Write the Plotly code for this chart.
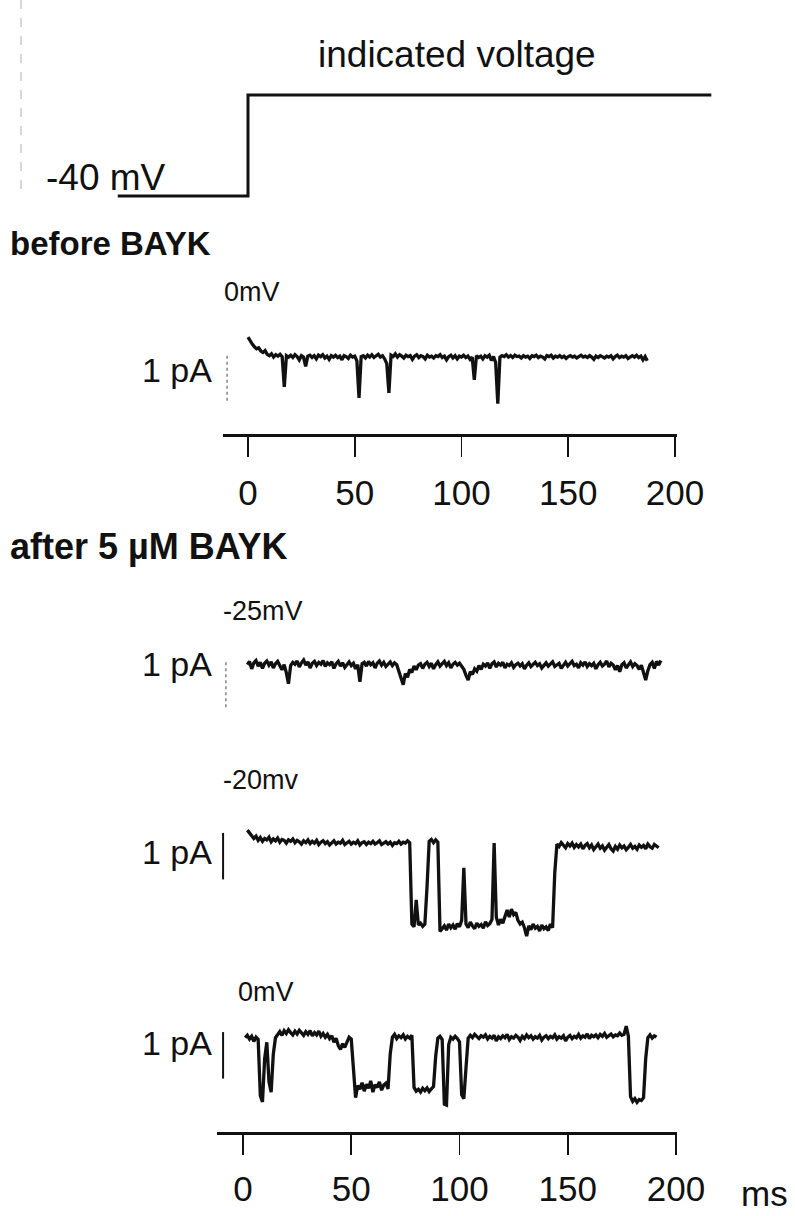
import plotly.graph_objects as go

# ---------------------------------------------------------------- data
# Voltage protocol (ms, mV): holding at -40 mV, step at t = 0
protocol_t = [-61.0, 0.0, 0.0, 217.0]
protocol_v = [-40.0, -40.0, 0.0, 0.0]

DT = 1.0  # sampling interval of the digitised records, ms

# before BAYK, step to 0 mV (pA, closed level = 0), first sample at t = 0 ms
before_t0 = 0.0
before_0mV = [
    0.45, 0.36, 0.30, 0.24, 0.20, 0.22, 0.15, 0.12, 0.16, 0.08,
    0.05, 0.09, 0.02, 0.07, 0.04, 0.08, 0.03, -0.62, 0.05, 0.02,
    0.06, 0.01, 0.07, 0.03, -0.04, 0.05, 0.02, -0.18, 0.04, 0.06,
    0.01, 0.05, -0.02, 0.06, 0.03, 0.07, 0.00, 0.04, -0.03, 0.05,
    0.02, 0.06, 0.01, 0.04, -0.04, 0.05, 0.03, -0.01, 0.06, 0.02,
    0.04, -0.06, -0.86, 0.03, 0.05, 0.00, 0.06, 0.02, 0.07, 0.01,
    0.04, 0.08, 0.02, 0.05, -0.02, -0.12, -0.75, 0.06, 0.03, 0.09,
    0.02, 0.07, 0.04, 0.00, 0.06, 0.03, 0.05, -0.03, 0.04, 0.07,
    0.01, 0.05, 0.03, -0.02, 0.06, 0.02, 0.04, 0.00, 0.05, 0.03,
    0.07, 0.01, 0.04, -0.04, 0.03, 0.06, 0.00, 0.05, -0.02, 0.04,
    0.02, 0.06, 0.01, 0.04, -0.03, 0.02, -0.47, 0.05, 0.01, 0.04,
    -0.02, 0.05, 0.02, 0.06, -0.05, 0.03, -0.10, -0.98, 0.02, 0.05,
    0.03, 0.07, 0.02, 0.05, 0.01, 0.06, 0.03, 0.04, 0.00, 0.05,
    0.02, 0.04, -0.01, 0.05, 0.03, 0.06, 0.01, 0.04, 0.02, -0.02,
    0.05, 0.03, 0.06, 0.00, 0.04, 0.02, 0.05, 0.01, 0.04, -0.01,
    0.03, 0.05, 0.02, 0.04, 0.00, 0.03, 0.06, 0.02, 0.04, 0.01,
    0.05, 0.02, -0.03, 0.04, 0.01, 0.05, 0.03, 0.00, 0.04, 0.02,
    0.05, -0.02, 0.03, 0.06, 0.01, 0.04, 0.02, 0.05, -0.01, 0.03,
    0.05, 0.02, 0.06, 0.01, 0.04, -0.04, 0.03, -0.06,
]

# after 5 µM BAYK, step to -25 mV, first sample at t = 2 ms
bayk_m25_t0 = 2.0
bayk_m25 = [
    0.05, 0.12, -0.04, 0.09, 0.14, 0.02, 0.10, -0.03, 0.08, 0.13,
    0.04, 0.11, -0.02, 0.07, 0.12, 0.01, -0.06, 0.05, -0.12, -0.36,
    0.03, 0.10, 0.06, 0.13, 0.00, 0.09, 0.15, 0.04, 0.11, -0.02,
    0.08, 0.12, 0.03, 0.10, 0.06, 0.14, 0.01, 0.09, 0.05, 0.11,
    -0.03, 0.07, 0.12, 0.02, 0.09, -0.01, 0.06, 0.11, 0.03, 0.08,
    -0.04, 0.05, -0.32, 0.07, 0.10, 0.02, 0.12, 0.05, 0.09, -0.02,
    0.08, 0.13, 0.04, 0.10, 0.01, 0.07, 0.11, 0.03, 0.09, 0.05,
    -0.08, -0.20, -0.38, -0.14, -0.22, -0.05, -0.12, 0.02, -0.06, 0.04,
    0.07, -0.03, 0.06, 0.10, 0.01, 0.08, -0.04, 0.05, 0.11, 0.02,
    0.07, 0.12, 0.03, 0.09, -0.02, 0.06, 0.10, 0.04, 0.08, 0.01,
    -0.05, -0.18, -0.28, -0.10, -0.16, -0.04, -0.09, 0.03, -0.05, 0.06,
    0.02, 0.09, -0.03, 0.07, 0.11, 0.00, 0.08, 0.04, 0.10, -0.02,
    0.06, 0.03, 0.09, -0.01, 0.05, 0.08, 0.02, 0.07, -0.04, 0.04,
    0.09, 0.01, 0.06, 0.10, 0.03, 0.07, -0.02, 0.05, 0.09, 0.02,
    0.06, 0.11, 0.01, 0.05, 0.08, -0.03, 0.04, 0.10, 0.02, 0.07,
    0.12, 0.03, 0.06, -0.02, 0.09, 0.04, 0.11, 0.01, 0.07, 0.03,
    0.08, -0.04, 0.05, 0.10, 0.02, 0.06, 0.13, 0.00, 0.08, 0.04,
    -0.06, 0.03, -0.10, 0.05, 0.09, -0.02, 0.06, 0.11, 0.01, 0.07,
    0.03, -0.05, 0.04, -0.12, -0.28, -0.08, 0.05, 0.10, -0.03, 0.12,
    0.04, 0.14,
]

# after 5 µM BAYK, step to -20 mV, first sample at t = 2 ms
bayk_m20_t0 = 2.0
bayk_m20 = [
    0.32, 0.25, 0.20, 0.14, 0.19, 0.10, 0.16, 0.08, 0.14, 0.11,
    0.17, 0.07, 0.13, 0.09, 0.15, 0.06, 0.12, 0.10, 0.04, 0.11,
    0.08, 0.13, 0.05, 0.10, 0.07, 0.02, 0.09, 0.05, 0.11, 0.03,
    0.08, 0.04, 0.10, 0.01, 0.06, 0.09, 0.03, 0.07, 0.00, 0.05,
    0.09, 0.02, 0.06, 0.04, 0.10, 0.01, 0.05, 0.08, 0.02, 0.06,
    0.03, 0.09, 0.00, 0.05, 0.07, 0.01, 0.06, 0.03, 0.08, 0.02,
    0.05, 0.09, 0.01, 0.04, 0.07, 0.02, 0.06, -0.01, 0.05, 0.03,
    0.08, 0.02, 0.06, 0.04, 0.09, 0.05,
    -1.70, -1.76, -1.18, -1.72, -1.68, -1.75, -1.70,
    -0.90,
    0.08, 0.12, 0.05, 0.11, 0.06,
    -1.86,
    -1.80, -1.74, -1.83, -1.70, -1.78, -1.72, -1.81, -1.69, -1.76, -1.62,
    -0.49,
    -1.70, -1.78, -1.66, -1.74, -1.80, -1.68, -1.75, -1.71, -1.79, -1.65,
    -1.73, -1.69, -1.60,
    0.04,
    -1.55, -1.72, -1.60, -1.68, -1.52, -1.40, -1.55, -1.38, -1.50, -1.45,
    -1.62, -1.70, -1.66, -1.78, -1.96, -1.74, -1.82, -1.70, -1.79, -1.75,
    -1.85, -1.72, -1.80, -1.76, -1.84, -1.70, -1.78,
    -0.60,
    0.02, -0.03, 0.05, 0.00, -0.06, 0.03, -0.02, 0.04, -0.05, 0.01,
    -0.04, 0.02, -0.08, -0.01, 0.03, -0.06, 0.00, -0.10, -0.03, 0.02,
    -0.07, -0.02, -0.11, -0.04, 0.01, -0.08, -0.13, -0.03, -0.09, 0.00,
    -0.06, -0.02, -0.10, -0.05, 0.01, -0.07, -0.03, -0.09, 0.00, -0.05,
    -0.01, -0.08, 0.02, -0.04, -0.07, 0.01, -0.03, -0.06,
]

# after 5 µM BAYK, step to 0 mV, first sample at t = 1 ms
bayk_0_t0 = 1.0
bayk_0 = [
    0.05, 0.10, 0.02, 0.08, -0.03, 0.06, 0.01,
    -1.20, -1.33, -0.40, -0.05, -0.90, -1.12, -0.30, 0.05,
    0.12, 0.18, 0.10, 0.20, 0.14, 0.22, 0.16, 0.11, 0.19, 0.13,
    0.21, 0.15, 0.10, 0.18, 0.12, 0.20, 0.09, 0.16, 0.11, 0.19,
    0.08, 0.14, 0.06, 0.12, 0.03, 0.09, -0.05, 0.04, -0.12, -0.20,
    -0.08, -0.16, -0.04, 0.06, 0.02,
    -0.70, -1.24,
    -0.98, -1.06, -0.92, -1.10, -0.95, -1.04, -0.88, -1.12, -0.96, -1.02,
    -0.90, -1.08, -0.97, -0.93, -1.05,
    -0.30,
    0.06, 0.12, 0.03, 0.09, 0.05, 0.11, 0.02, 0.08, 0.04, 0.10,
    -1.02, -1.10, -1.06, -1.12, -1.04, -1.09, -1.03, -1.11, -1.05, -1.00,
    -0.35,
    0.04, 0.08, 0.01,
    -1.38, -1.40,
    -0.10, 0.06, 0.02, 0.08, 0.03, -0.04,
    -1.18, -1.26, -0.60,
    0.04, 0.10, 0.05, 0.12, 0.07, 0.03, 0.09, 0.06, 0.11, 0.02,
    0.08, 0.04, 0.10, -0.02, 0.07, 0.03, 0.09, 0.05, 0.12, 0.01,
    0.07, 0.04, 0.10, 0.06, -0.01, 0.08, 0.03, 0.11, 0.05, 0.09,
    0.02, 0.07, 0.04, 0.10, 0.00, 0.06, 0.09, 0.03, 0.08, 0.05,
    0.11, 0.02, 0.07, 0.04, 0.09, -0.02, 0.06, 0.10, 0.03, 0.08,
    0.05, 0.12, 0.04, 0.09, 0.06, 0.13, 0.03, 0.10, 0.07, 0.11,
    0.05, 0.12, 0.08, 0.14, 0.06, 0.10, 0.13, 0.07, 0.11, 0.09,
    0.15, 0.10, 0.12, 0.30, 0.08,
    -1.22, -1.32, -1.26, -1.34, -1.28, -1.30, -1.24,
    -0.40,
    0.05, 0.11, 0.04, 0.09, 0.06,
]

time_ticks = [0, 50, 100, 150, 200]
SCALE_PA = 1.0  # calibration bar, pA

# ---------------------------------------------------------------- layout helpers
W, H = 795, 1216
FONT = "Liberation Sans, Arial, Helvetica, sans-serif"
INK = "#111111"
PX_PER_PA = 46.5


def fx(px):
    return px / W


def fy(px):
    return 1 - px / H


def times(t0, values):
    return [t0 + i * DT for i in range(len(values))]


def x_range(left_px, right_px, zero_px, px_per_ms):
    return [(left_px - zero_px) / px_per_ms, (right_px - zero_px) / px_per_ms]


def y_axis(top_px, bottom_px, zero_px, anchor):
    return dict(
        domain=[fy(bottom_px), fy(top_px)],
        range=[(zero_px - bottom_px) / PX_PER_PA, (zero_px - top_px) / PX_PER_PA],
        visible=False, anchor=anchor, fixedrange=True, automargin=False,
    )


fig = go.Figure()

# voltage protocol
fig.add_trace(go.Scatter(x=protocol_t, y=protocol_v, xaxis="x3", yaxis="y",
                         mode="lines", line=dict(color=INK, width=3)))

# current records: (t0, values, x-axis, y-axis)
records = [
    (before_t0, before_0mV, "x", "y2"),
    (bayk_m25_t0, bayk_m25, "x2", "y3"),
    (bayk_m20_t0, bayk_m20, "x2", "y4"),
    (bayk_0_t0, bayk_0, "x2", "y5"),
]
for t0, vals, xa, ya in records:
    fig.add_trace(go.Scatter(x=times(t0, vals), y=vals, xaxis=xa, yaxis=ya,
                             mode="lines", line=dict(color=INK, width=3.3)))

# 1 pA calibration bars: (time, top value, x-axis, y-axis, dotted?)
bars = [
    (-9.8, 0.05, "x", "y2", True),
    (-7.9, 0.10, "x2", "y3", True),
    (-9.2, 0.26, "x2", "y4", False),
    (-9.2, 0.17, "x2", "y5", False),
]
for tb, top, xa, ya, dotted in bars:
    fig.add_trace(go.Scatter(
        x=[tb, tb], y=[top, top - SCALE_PA], xaxis=xa, yaxis=ya, mode="lines",
        line=dict(color="#8a8a8a" if dotted else INK, width=1.6 if dotted else 2,
                  dash="dot" if dotted else "solid")))

time_axis = dict(
    anchor="free", side="bottom", showline=True, linecolor=INK, linewidth=3,
    ticks="outside", ticklen=20, tickwidth=1.8, tickcolor=INK,
    tickvals=time_ticks, ticktext=[str(v) for v in time_ticks],
    showgrid=False, zeroline=False, fixedrange=True, automargin=False,
    tickfont=dict(family=FONT, size=35, color=INK),
)

fig.update_layout(
    width=W, height=H, margin=dict(l=0, r=0, t=0, b=0, autoexpand=False),
    paper_bgcolor="white", plot_bgcolor="rgba(0,0,0,0)", showlegend=False,
    font=dict(family=FONT, color=INK), dragmode=False,
    xaxis=dict(time_axis, domain=[fx(223), fx(677)], range=x_range(223, 677, 248, 2.135),
               position=fy(435), ticklabelstandoff=6),
    xaxis2=dict(time_axis, domain=[fx(217), fx(677)], range=x_range(217, 677, 243, 2.165),
                position=fy(1133), ticklabelstandoff=4),
    xaxis3=dict(domain=[0, 1], range=x_range(0, W, 248, 2.135), visible=False,
                anchor="y", fixedrange=True, automargin=False),
    yaxis=dict(domain=[fy(230), fy(60)], range=[-40 - (230 - 196) / 2.525, (95 - 60) / 2.525],
               visible=False, anchor="x3", fixedrange=True, automargin=False),
    yaxis2=y_axis(300, 425, 358, "x"),
    yaxis3=y_axis(630, 720, 667, "x2"),
    yaxis4=y_axis(815, 950, 845, "x2"),
    yaxis5=y_axis(1015, 1115, 1040, "x2"),
)

# text labels: (text, x px, y px, size, anchor)
labels = [
    ("indicated voltage", 457, 55, 37, "center"),
    ("-40 mV", 44, 177, 37, "left"),
    ("<b>before BAYK</b>", 8, 243, 33, "left"),
    ("0mV", 222, 292, 27, "left"),
    ("1 pA", 214, 370, 34, "right"),
    ("<b>after 5 µM BAYK</b>", 8, 546, 36, "left"),
    ("-25mV", 221, 611, 27, "left"),
    ("1 pA", 214, 664, 34, "right"),
    ("-20mv", 221, 780, 27, "left"),
    ("1 pA", 214, 852, 34, "right"),
    ("0mV", 236, 992, 27, "left"),
    ("1 pA", 214, 1043, 34, "right"),
    ("ms", 790, 1193, 35, "right"),
]
for text, x, y, size, anchor in labels:
    fig.add_annotation(text=text, x=fx(x), y=fy(y), xref="paper", yref="paper",
                       xanchor=anchor, yanchor="middle", showarrow=False,
                       font=dict(family=FONT, size=size, color=INK))

# faint edge mark along the left margin
fig.add_shape(type="line", xref="paper", yref="paper", x0=fx(21), x1=fx(21),
              y0=fy(0), y1=fy(190), line=dict(color="#b0b0b0", width=1, dash="dash"))

fig.write_html("out.html", config={"displayModeBar": False, "staticPlot": True})
